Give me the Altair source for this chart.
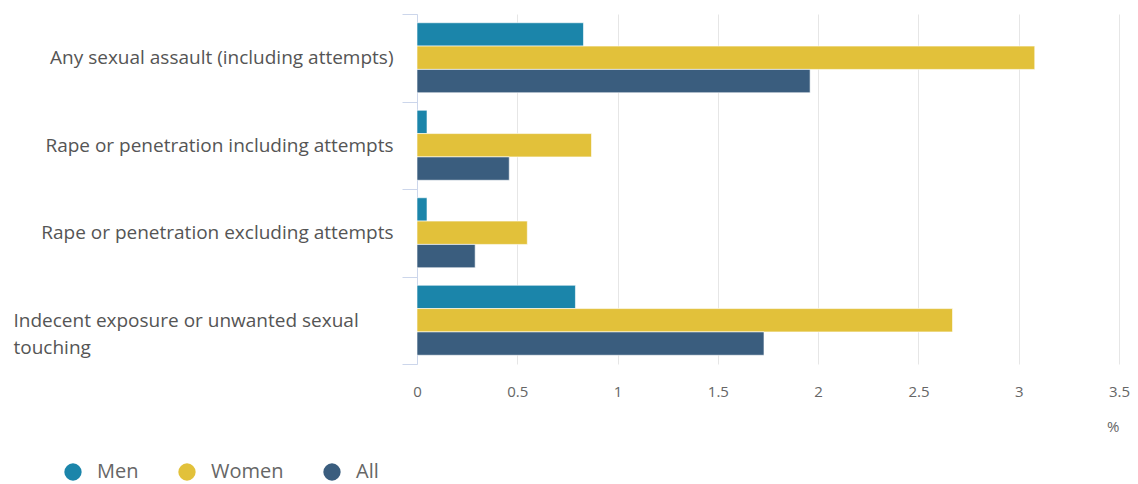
import altair as alt
import pandas as pd

categories = [
    "Any sexual assault (including attempts)",
    "Rape or penetration including attempts",
    "Rape or penetration excluding attempts",
    "Indecent exposure or unwanted sexual touching",
]
series = ["Men", "Women", "All"]
men = [0.83, 0.05, 0.05, 0.79]
women = [3.08, 0.87, 0.55, 2.67]
all_people = [1.96, 0.46, 0.29, 1.73]
colors = ["#1b85aa", "#e2c13a", "#3a5d7e"]
x_ticks = [0, 0.5, 1, 1.5, 2, 2.5, 3, 3.5]

rows = []
for name, vals in zip(series, [men, women, all_people]):
    for c, v in zip(categories, vals):
        rows.append({"category": c, "series": name, "value": v})
df = pd.DataFrame(rows)

wrap_label = categories[3]
label_test = f"datum.value == '{wrap_label}'"

FONT = "Open Sans"

chart = (
    alt.Chart(df)
    .mark_bar(stroke="#ffffff", strokeWidth=1, strokeOpacity=0.6)
    .encode(
        x=alt.X(
            "value:Q",
            scale=alt.Scale(domain=[0, 3.5], nice=False),
            axis=alt.Axis(
                values=x_ticks,
                format="~g",
                title="%",
                titleAnchor="end",
                titleFontSize=15,
                titleFontWeight="normal",
                titleColor="#666666",
                titlePadding=20,
                titleFont=FONT,
                grid=True,
                gridColor="#e6e6e6",
                domain=False,
                ticks=False,
                labelPadding=20,
                labelFontSize=15,
                labelColor="#666666",
                labelFont=FONT,
                labelFlush=False,
            ),
        ),
        y=alt.Y(
            "category:N",
            sort=categories,
            scale=alt.Scale(paddingInner=0, paddingOuter=0),
            axis=alt.Axis(
                title=None,
                tickBand="extent",
                tickSize=15,
                tickColor="#ccd6eb",
                domainColor="#ccd6eb",
                grid=False,
                labelFont=FONT,
                labelFontSize=19,
                labelColor="#555555",
                labelLimit=0,
                labelLineHeight=27,
                labelExpr=f"datum.value == '{wrap_label}' ? ['Indecent exposure or unwanted sexual', 'touching'] : datum.label",
                labelAlign={"condition": {"test": label_test, "value": "left"}, "value": "right"},
                labelPadding={"condition": {"test": label_test, "value": 389}, "value": 9},
            ),
        ),
        yOffset=alt.YOffset(
            "series:N",
            sort=series,
            scale=alt.Scale(paddingInner=0, paddingOuter=0.375),
        ),
        color=alt.Color(
            "series:N",
            sort=series,
            scale=alt.Scale(domain=series, range=colors),
            legend=alt.Legend(
                title=None,
                orient="none",
                legendX=-354,
                legendY=448,
                direction="horizontal",
                symbolType="circle",
                symbolSize=300,
                symbolStrokeWidth=0,
                symbolOpacity=1,
                labelFont=FONT,
                labelFontSize=20,
                labelColor="#666666",
                labelOffset=14,
                columnPadding=38,
            ),
        ),
    )
    .properties(
        width=702,
        height=350,
        autosize=alt.AutoSizeParams(type="none"),
        padding={"left": 409, "top": 6, "right": 11, "bottom": 124},
    )
    .configure_view(stroke=None)
)

chart.save("out.html", embed_options={"renderer": "svg", "actions": False})
